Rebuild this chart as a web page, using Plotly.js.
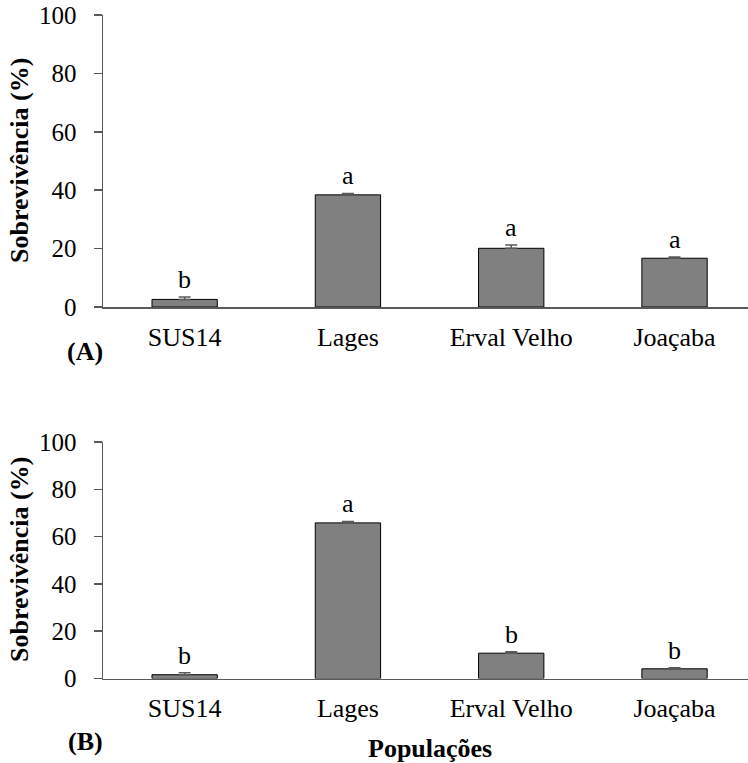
<!DOCTYPE html>
<html>
<head>
<meta charset="utf-8">
<script src="https://cdn.plot.ly/plotly-3.0.1.min.js"></script>
<style>html,body{margin:0;padding:0;background:#fff;}#chart{width:748px;height:763px;}</style>
</head>
<body>
<div id="chart"></div>
<script>
// Data
const categories = ['SUS14', 'Lages', 'Erval Velho', 'Joaçaba'];
const survivalA = [2.6, 38.4, 20.1, 16.7];
const errorA = [0.8, 0.5, 1.1, 0.4];
const lettersA = ['b', 'a', 'a', 'a'];
const survivalB = [1.6, 65.8, 10.7, 4.1];
const errorB = [0.8, 0.6, 0.6, 0.4];
const lettersB = ['b', 'a', 'b', 'b'];
const yTicks = [0, 20, 40, 60, 80, 100];

const W = 748, H = 763;
const FONT = '"Liberation Serif", "Times New Roman", serif';
const axisColor = '#595959';

function barTrace(vals, errs, xa, ya) {
  return {
    type: 'bar', x: categories, y: vals, xaxis: xa, yaxis: ya,
    width: 0.4,
    marker: {color: '#808080', line: {color: '#000000', width: 1}},
    error_y: {type: 'data', array: errs, symmetric: false, arrayminus: errs.map(() => 0),
              color: axisColor, thickness: 1.5, width: 6},
    hoverinfo: 'none', showlegend: false
  };
}

const traces = [
  barTrace(survivalA, errorA, 'x', 'y'),
  barTrace(survivalB, errorB, 'x2', 'y2')
];

const annotations = [];
function addLetters(vals, errs, letters, xr, yr) {
  categories.forEach((c, i) => {
    annotations.push({
      xref: xr, yref: yr, x: c, y: vals[i] + errs[i], text: letters[i],
      showarrow: false, yanchor: 'bottom', xanchor: 'center', yshift: 1,
      font: {family: FONT, size: 26, color: '#000'}
    });
  });
}
addLetters(survivalA, errorA, lettersA, 'x', 'y');
addLetters(survivalB, errorB, lettersB, 'x2', 'y2');

function px(x) { return x / W; }
function py(y) { return 1 - y / H; }

const boldFont = {family: FONT, size: 26, color: '#000', weight: 'bold'};
annotations.push(
  {xref: 'paper', yref: 'paper', x: px(19), y: py(161), text: '<b>Sobrevivência (%)</b>', textangle: -90,
   showarrow: false, xanchor: 'center', yanchor: 'middle', font: boldFont},
  {xref: 'paper', yref: 'paper', x: px(19), y: py(560), text: '<b>Sobrevivência (%)</b>', textangle: -90,
   showarrow: false, xanchor: 'center', yanchor: 'middle', font: boldFont},
  {xref: 'paper', yref: 'paper', x: px(85), y: py(352), text: '<b>(A)</b>',
   showarrow: false, xanchor: 'center', yanchor: 'middle', font: boldFont},
  {xref: 'paper', yref: 'paper', x: px(85), y: py(741), text: '<b>(B)</b>',
   showarrow: false, xanchor: 'center', yanchor: 'middle', font: boldFont},
  {xref: 'paper', yref: 'paper', x: px(430), y: py(748), text: '<b>Populações</b>',
   showarrow: false, xanchor: 'center', yanchor: 'middle', font: boldFont}
);

function xAxis(anchor) {
  return {
    domain: [px(103), 1], anchor: anchor, range: [-0.5, 3.45],
    showline: true, linecolor: axisColor, linewidth: 1.5, ticks: '', showgrid: false, zeroline: false,
    ticklabelstandoff: 6,
    tickfont: {family: FONT, size: 26, color: '#000'}, fixedrange: true
  };
}
function yAxis(anchor, top, bottom) {
  return {
    domain: [py(bottom), py(top)], anchor: anchor, range: [0, 100],
    tickvals: yTicks, ticktext: yTicks.map(String),
    showline: true, linecolor: axisColor, linewidth: 1.5, ticks: 'outside', ticklen: 8,
    tickcolor: axisColor, tickwidth: 1.5, showgrid: false, zeroline: false,
    ticklabelstandoff: 12,
    tickfont: {family: FONT, size: 25, color: '#000'}, fixedrange: true
  };
}

const layout = {
  width: W, height: H,
  margin: {l: 0, r: 0, t: 0, b: 0},
  paper_bgcolor: '#fff', plot_bgcolor: '#fff',
  xaxis: xAxis('y'), yaxis: yAxis('x', 15, 307),
  xaxis2: xAxis('y2'), yaxis2: yAxis('x2', 442, 678.5),
  annotations: annotations,
  font: {family: FONT, color: '#000'}
};

Plotly.newPlot('chart', traces, layout, {staticPlot: true, displayModeBar: false});
</script>
</body>
</html>
